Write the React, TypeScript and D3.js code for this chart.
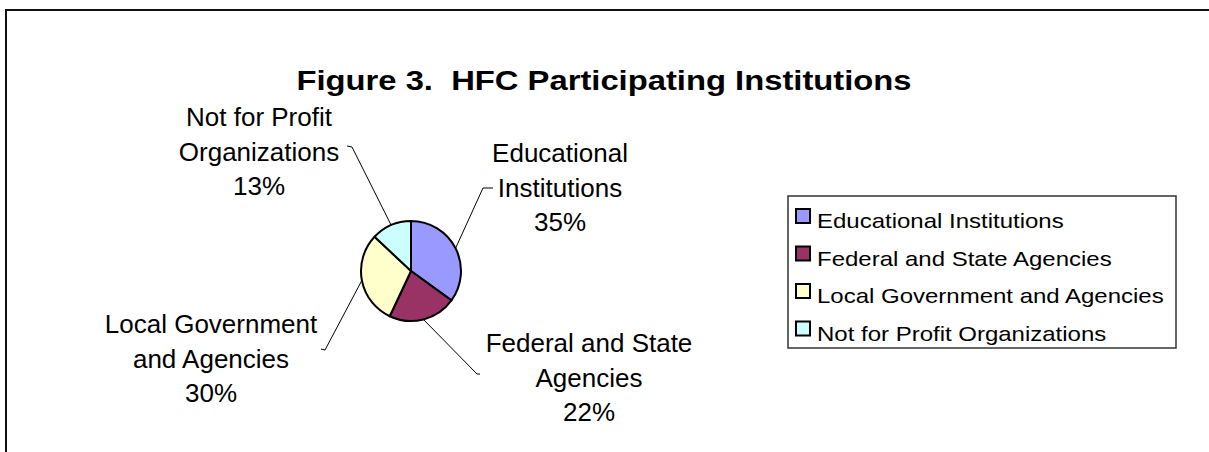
import React, { useRef, useEffect } from "react";
import * as d3 from "d3";

// chart data
const categories = [
  "Educational Institutions",
  "Federal and State Agencies",
  "Local Government and Agencies",
  "Not for Profit Organizations",
];
const shares = [35, 22, 30, 13];
const colors = ["#9999FF", "#993366", "#FFFFCC", "#CCFFFF"];
// data label lines as they wrap in the picture
const labelLines = [
  ["Educational", "Institutions"],
  ["Federal and State", "Agencies"],
  ["Local Government", "and Agencies"],
  ["Not for Profit", "Organizations"],
];

const W = 1209;
const H = 452;
const FONT = "'Liberation Sans', Arial, sans-serif";

export default function App() {
  const svgRef = useRef<SVGSVGElement>(null);

  useEffect(() => {
    const svg = d3.select(svgRef.current);
    svg.selectAll("*").remove();

    // outer frame (right and bottom fall outside the picture)
    svg
      .append("rect")
      .attr("x", 6)
      .attr("y", 10)
      .attr("width", W + 20)
      .attr("height", H + 20)
      .attr("fill", "white")
      .attr("stroke", "#111")
      .attr("stroke-width", 2);

    // title
    svg
      .append("g")
      .attr("transform", "translate(604, 90) scale(1.17, 1)")
      .append("text")
      .attr("text-anchor", "middle")
      .attr("font-family", FONT)
      .attr("font-weight", "bold")
      .attr("font-size", 28)
      .attr("fill", "#000")
      .attr("xml:space", "preserve")
      .text("Figure 3.  HFC Participating Institutions");

    // pie
    const cx = 411;
    const cy = 271;
    const r = 50;
    const pie = d3
      .pie<number>()
      .sort(null)
      .value((d) => d);
    const arcs = pie(shares);
    const arc = d3.arc<d3.PieArcDatum<number>>().innerRadius(0).outerRadius(r);

    const g = svg.append("g").attr("transform", `translate(${cx}, ${cy})`);
    g.selectAll("path.slice")
      .data(arcs)
      .enter()
      .append("path")
      .attr("class", "slice")
      .attr("d", arc)
      .attr("fill", (d, i) => colors[i])
      .attr("stroke", "#000")
      .attr("stroke-width", 2)
      .attr("stroke-linejoin", "round");

    // label layout: centre x, first baseline, elbow of leader, hook direction
    const labelPos = [
      { x: 560, y: 162, ex: 483, ey: 188, hook: 10 },
      { x: 589, y: 352, ex: 477, ey: 374, hook: 3 },
      { x: 211, y: 333, ex: 325, ey: 350, hook: -4 },
      { x: 259, y: 126, ex: 352, ey: 147, hook: -5 },
    ];
    const lineGap = 34.5;

    arcs.forEach((a, i) => {
      const mid = (a.startAngle + a.endAngle) / 2;
      const sx = cx + r * Math.sin(mid);
      const sy = cy - r * Math.cos(mid);
      const p = labelPos[i];

      svg
        .append("path")
        .attr(
          "d",
          `M${sx},${sy}L${p.ex},${p.ey}L${p.ex + p.hook},${p.ey - (p.hook < 0 ? 1 : 0)}`
        )
        .attr("fill", "none")
        .attr("stroke", "#000")
        .attr("stroke-width", 1);

      const lines = [...labelLines[i], `${shares[i]}%`];
      lines.forEach((t, j) => {
        svg
          .append("g")
          .attr("transform", `translate(${p.x}, ${p.y + j * lineGap}) scale(1.04, 1)`)
          .append("text")
          .attr("text-anchor", "middle")
          .attr("font-family", FONT)
          .attr("font-size", 25)
          .attr("fill", "#000")
          .text(t);
      });
    });

    // legend
    const legend = svg.append("g").attr("transform", "translate(788, 196)");
    legend
      .append("rect")
      .attr("width", 388)
      .attr("height", 152)
      .attr("fill", "white")
      .attr("stroke", "#333")
      .attr("stroke-width", 1.5);

    categories.forEach((c, i) => {
      const rowY = 20 + i * 37.5;
      legend
        .append("rect")
        .attr("x", 8)
        .attr("y", rowY - 7)
        .attr("width", 14)
        .attr("height", 14)
        .attr("fill", colors[i])
        .attr("stroke", "#000")
        .attr("stroke-width", 2);
      legend
        .append("g")
        .attr("transform", `translate(29, ${rowY + 12}) scale(1.2, 1)`)
        .append("text")
        .attr("font-family", FONT)
        .attr("font-size", 20)
        .attr("fill", "#000")
        .text(c);
    });
  }, []);

  return (
    <svg
      ref={svgRef}
      width={W}
      height={H}
      style={{ position: "absolute", left: 0, top: 0, background: "white" }}
    ></svg>
  );
}
